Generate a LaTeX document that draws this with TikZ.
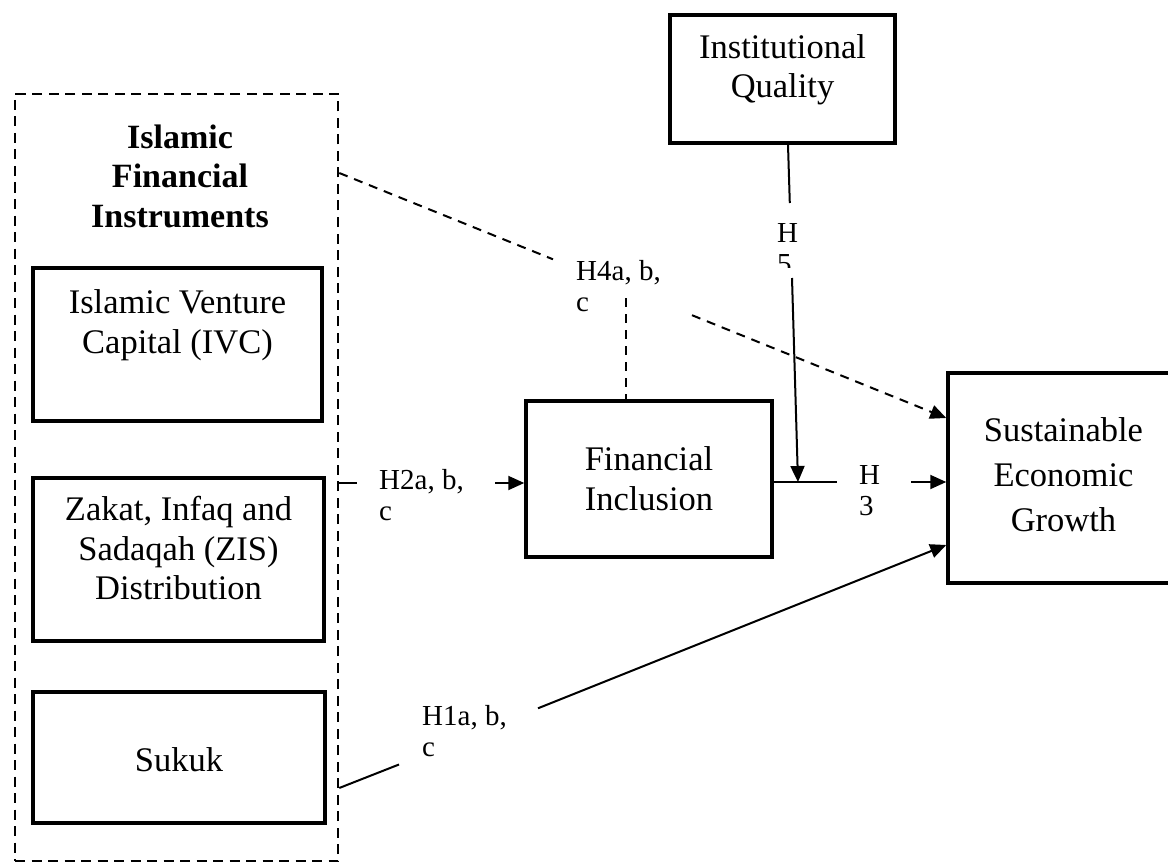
\documentclass[tikz,border=0pt]{standalone}
\usepackage{fontspec}
\setmainfont{Liberation Serif}
\usetikzlibrary{arrows.meta}
\begin{document}
\begin{tikzpicture}[x=1pt,y=-1pt,
  boxtext/.style={font=\fontsize{34.5}{39.5}\selectfont},
  titletext/.style={font=\fontsize{34}{39.5}\selectfont\bfseries, align=center, inner sep=0pt, anchor=base},
  solidbox/.style={draw, line width=3.5pt, inner sep=0pt, align=center, boxtext},
  groupbox/.style={draw, line width=2.5pt, dash pattern=on 10pt off 6.5pt, inner sep=0pt},
  hyplabel/.style={inner sep=0pt, align=left, anchor=base west, font=\fontsize{29}{31}\selectfont},
  link/.style={line width=2pt},
  arrowlink/.style={link, -{Triangle[length=16pt,width=14pt]}},
  dashlink/.style={link, dash pattern=on 9pt off 7pt},
]
\useasboundingbox (0,0) rectangle (1168,864);

% group of instruments
\node[groupbox, minimum width=323pt, minimum height=767pt] (ifi) at (176.5,477.5) {};
\node[titletext] (ifititle) at (180,227) {Islamic\\Financial\\Instruments};

% boxes (node baseline = last text line)
\node[solidbox, minimum width=289pt, text height=85.3pt, text depth=67.7pt] (ivc) at (177.5,344.5) {Islamic Venture\\Capital (IVC)};
\node[solidbox, minimum width=291pt, text height=121.7pt, text depth=41.3pt] (zis) at (178.5,559.5) {Zakat, Infaq and\\Sadaqah (ZIS)\\Distribution};
\node[solidbox, minimum width=292pt, text height=79.5pt, text depth=51.5pt] (sukuk) at (179,757.5) {Sukuk};
\node[solidbox, minimum width=246pt, text height=109pt, text depth=47pt] (fi) at (649,479) {Financial\\Inclusion};
\node[solidbox, minimum width=225pt, text height=83pt, text depth=45pt] (iq) at (782.5,79) {Institutional\\Quality};
\node[solidbox, minimum width=231pt, text height=158.7pt, text depth=51.3pt, font=\fontsize{34.5}{45}\selectfont] (seg) at (1063.5,478) {Sustainable\\Economic\\Growth};

% labels (anchor at baseline of last line)
\node[hyplabel] (h4lbl) at (576,311.7) {H4a, b,\\c};
\node[hyplabel] (h2lbl) at (379,520) {H2a, b,\\c};
\node[hyplabel] (h1lbl) at (422,756.7) {H1a, b,\\c};
\node[hyplabel] (h3lbl) at (859,515) {H\\3};
\begin{scope}
  \clip (760,200) rectangle (820,267);
  \node[hyplabel] (h5lbl) at (777,273) {H\\5};
\end{scope}

% H4 (dashed)
\coordinate (h4a) at (553,259.3);
\coordinate (h4b) at (692,315.2);
\coordinate (h4v) at (626,298);
\draw[dashlink] (ifi.east |- 0,173) -- (h4a);
\draw[dashlink, arrowlink] (h4b) -- (seg.west |- 0,418);
\draw[dashlink] (h4v) -- (fi.north -| h4v);

% H5
\coordinate (h5a) at (789.8,203);
\coordinate (h5b) at (792,278);
\coordinate (h5tip) at (798,482);
\draw[link] (iq.south -| 788,0) -- (h5a);
\draw[arrowlink] (h5b) -- (h5tip);

% H3
\coordinate (h3a) at (837,482);
\coordinate (h3b) at (911,482);
\draw[link] (fi.east |- 0,482) -- (h3a);
\draw[arrowlink] (h3b) -- (seg.west |- 0,482);

% H2
\coordinate (h2a) at (357,483);
\coordinate (h2b) at (495,483);
\draw[link] (ifi.east |- 0,483) -- (h2a);
\draw[arrowlink] (h2b) -- (fi.west |- 0,483);

% H1
\coordinate (h1a) at (399,764.5);
\coordinate (h1b) at (538,708.3);
\draw[link] (ifi.east |- 0,788) -- (h1a);
\draw[arrowlink] (h1b) -- (seg.west |- 0,545);
\end{tikzpicture}
\end{document}
